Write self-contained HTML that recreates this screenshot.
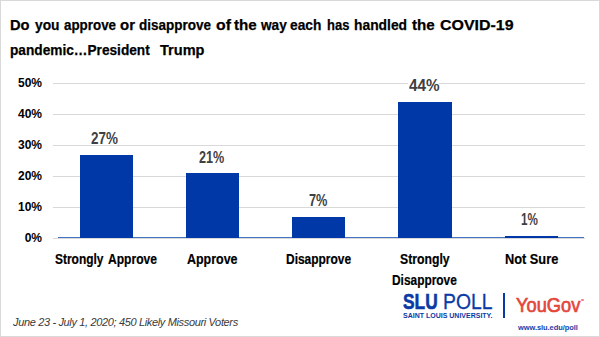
<!DOCTYPE html>
<html><head><meta charset="utf-8">
<style>
html,body{margin:0;padding:0;background:#fff;}
body{width:600px;height:337px;position:relative;overflow:hidden;font-family:"Liberation Sans",sans-serif;}
.frame{position:absolute;left:0;top:0;width:598px;height:335px;border:1px solid #d9d9d9;}
.t{position:absolute;white-space:pre;line-height:1;}
.tw{position:absolute;white-space:pre;line-height:1;font-weight:bold;font-size:15.5px;color:#000;transform-origin:0 0;-webkit-text-stroke:0.25px #000;}
.g{position:absolute;left:53px;width:532px;height:1px;background:#d9d9d9;}
.yl{position:absolute;left:0;width:42px;text-align:right;font-weight:bold;font-size:12px;color:#000;line-height:1;}
.bar{position:absolute;background:#0038a8;}
.vw{position:absolute;white-space:pre;line-height:1;font-weight:bold;font-size:16px;color:#404040;transform-origin:0 0;}

.cw{position:absolute;white-space:pre;line-height:1;font-weight:bold;font-size:14.5px;color:#000;transform-origin:0 0;-webkit-text-stroke:0.2px #000;}
</style></head><body>
<div class="frame"></div>
<span class="tw" style="left:10.05px;top:17px;transform:scaleX(0.9474)">Do</span>
<span class="tw" style="left:35.00px;top:17px;transform:scaleX(0.8889)">you</span>
<span class="tw" style="left:63.75px;top:17px;transform:scaleX(0.8625)">approve</span>
<span class="tw" style="left:119.74px;top:17px;transform:scaleX(0.9643)">or</span>
<span class="tw" style="left:139.38px;top:17px;transform:scaleX(0.8698)">disapprove</span>
<span class="tw" style="left:215.73px;top:17px;transform:scaleX(1.0179)">of</span>
<span class="tw" style="left:234.30px;top:17px;transform:scaleX(0.9783)">the</span>
<span class="tw" style="left:261.00px;top:17px;transform:scaleX(0.8793)">way</span>
<span class="tw" style="left:290.11px;top:17px;transform:scaleX(0.8864)">each</span>
<span class="tw" style="left:326.91px;top:17px;transform:scaleX(0.8400)">has</span>
<span class="tw" style="left:354.36px;top:17px;transform:scaleX(0.8922)">handled</span>
<span class="tw" style="left:412.25px;top:17px;transform:scaleX(0.9783)">the</span>
<span class="tw" style="left:439.97px;top:17px;transform:scaleX(1.0286)">COVID-19</span>
<span class="tw" style="left:10.42px;top:42px;transform:scaleX(0.8818)">pandemic…President</span>
<span class="tw" style="left:159.50px;top:42px;transform:scaleX(0.9383)">Trump</span>

<div class="g" style="top:83px"></div>
<div class="g" style="top:114px"></div>
<div class="g" style="top:145px"></div>
<div class="g" style="top:176px"></div>
<div class="g" style="top:207px"></div>
<div class="g" style="top:238px"></div>
<div style="position:absolute;left:58px;top:237px;width:526px;height:1px;background:#4472c4;"></div>

<div class="yl" style="top:77px">50%</div>
<div class="yl" style="top:108px">40%</div>
<div class="yl" style="top:139px">30%</div>
<div class="yl" style="top:170px">20%</div>
<div class="yl" style="top:201px">10%</div>
<div class="yl" style="top:232px">0%</div>

<div class="bar" style="left:80px;top:155px;width:53px;height:83px"></div>
<div class="bar" style="left:186px;top:173px;width:53px;height:65px"></div>
<div class="bar" style="left:292px;top:217px;width:53px;height:21px"></div>
<div class="bar" style="left:398px;top:102px;width:54px;height:136px"></div>
<div class="bar" style="left:505px;top:236px;width:53px;height:2px"></div>

<div style="position:absolute;left:408px;top:79px;width:31px;height:11px;background:#fff;"></div>
<span class="vw" style="left:90.96px;top:131px;transform:scaleX(0.8387)">27%</span>
<span class="vw" style="left:198.91px;top:150px;transform:scaleX(0.7871)">21%</span>
<span class="vw" style="left:308.70px;top:193px;transform:scaleX(0.7955)">7%</span>
<span class="vw" style="left:408.70px;top:78px;transform:scaleX(0.9531)">44%</span>
<span class="vw" style="left:521.37px;top:212px;transform:scaleX(0.7273)">1%</span>

<span class="cw" style="left:55.38px;top:252px;transform:scaleX(0.8241)">Strongly</span>
<span class="cw" style="left:107.67px;top:252px;transform:scaleX(0.8333)">Approve</span>
<span class="cw" style="left:187.44px;top:252px;transform:scaleX(0.8596)">Approve</span>
<span class="cw" style="left:285.88px;top:252px;transform:scaleX(0.8244)">Disapprove</span>
<span class="cw" style="left:399.86px;top:252px;transform:scaleX(0.8448)">Strongly</span>
<span class="cw" style="left:392.18px;top:272.5px;transform:scaleX(0.8205)">Disapprove</span>
<span class="cw" style="left:504.82px;top:252px;transform:scaleX(0.8814)">Not Sure</span>

<div class="t" style="left:13px;top:317px;font-size:11px;font-style:italic;color:#3a3a3a;letter-spacing:-0.35px;">June 23 - July 1, 2020; 450 Likely Missouri Voters</div>

<!-- logo -->
<div class="t" style="left:403px;top:291px;font-size:22.5px;font-weight:bold;color:#0a3aa5;transform:scaleX(0.77);transform-origin:0 0;-webkit-text-stroke:0.6px #0a3aa5;">SLU</div>
<div class="t" style="left:443px;top:291px;font-size:22.5px;color:#0a3aa5;transform:scaleX(0.86);transform-origin:0 0;-webkit-text-stroke:0.3px #0a3aa5;">POLL</div>
<div class="t" style="left:403px;top:312px;font-size:7px;font-weight:bold;color:#0a3aa5;">SAINT LOUIS UNIVERSITY.</div>
<div style="position:absolute;left:503px;top:293px;width:2px;height:25px;background:#0a3aa5;"></div>
<div class="t" style="left:516px;top:294px;font-size:21px;color:#e4463a;transform:scaleX(0.87);transform-origin:0 0;-webkit-text-stroke:0.7px #e4463a;">YouGov</div>
<div style="position:absolute;left:581px;top:298.5px;width:2.5px;height:2.5px;background:#ec8278;border-radius:50%;"></div>
<div class="t" style="left:518px;top:324px;font-size:7.5px;font-weight:bold;color:#1a3ea8;letter-spacing:-0.08px;">www.slu.edu/poll</div>
</body></html>
